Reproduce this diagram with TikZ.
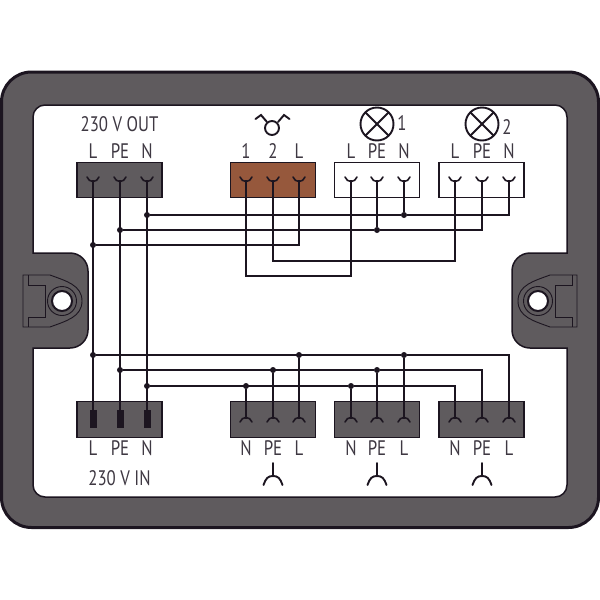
\documentclass[tikz,border=0pt]{standalone}
\usepackage{fontspec}
\setmainfont{PT Sans}
\definecolor{frame}{HTML}{5F5B5E}
\definecolor{ink}{HTML}{1C1520}
\definecolor{brownbox}{HTML}{96583C}
\tikzset{
  termbox/.style={draw=ink,line width=1.3pt,fill=frame,minimum width=85pt,minimum height=35.5pt,inner sep=0pt},
  lampbox/.style={termbox,fill=white},
  swbox/.style={termbox,fill=brownbox},
  wire/.style={draw=ink,line width=1.7pt},
  dot/.style={circle,fill=ink,inner sep=0pt,minimum size=6pt},
  lbl/.style={text=ink!85,font=\fontsize{21}{21}\selectfont,inner sep=0pt,transform shape,xscale=.8},
  symb/.style={draw=ink,line width=1.9pt,line cap=round},
  cup/.style={draw=ink,line width=1.6pt,line cap=round},
  lug/.pic={
    \draw [draw=ink,line width=.9pt] (-39,-26) -- (-12,-26) .. controls (4,-20) and (20,-16) .. (20,0)
      .. controls (20,16) and (4,20) .. (-12,26) -- (-39,26) -- cycle;
    \draw [draw=ink,line width=.9pt] (-34,-26) -- (-34,-16) -- (-17,-16) -- (-17,16) -- (-34,16) -- (-34,26);
    \draw [draw=ink,line width=.9pt] (0,0) circle (14.5);
    \draw [draw=ink,line width=2pt,fill=white] (0,0) circle (10);
  }
}
\begin{document}
\begin{tikzpicture}[x=1pt,y=-1pt]
  \useasboundingbox (0,0) rectangle (600,600);

  % housing
  \draw [draw=ink,line width=3pt,fill=frame,rounded corners=30pt] (1.5,72) rectangle (598.5,527.5);
  \draw [draw=ink,line width=1.5pt,fill=white]
    [rounded corners=12pt] (33,180) -- (33,105) -- (567,105) -- (567,180)
    [sharp corners] -- (567,253)
    [rounded corners=18pt] -- (512,253) -- (512,348)
    [sharp corners] -- (567,348)
    [rounded corners=12pt] -- (567,497) -- (33,497) -- (33,420)
    [sharp corners] -- (33,348)
    [rounded corners=18pt] -- (88,348) -- (88,253)
    [sharp corners] -- (33,253) -- cycle;
  \pic at (62,301) {lug};
  \pic [xscale=-1] at (538,301) {lug};

  % terminal blocks
  \node (out)   [termbox] at (119.5,180) {};
  \node (sw)    [swbox]   at (273,180)   {};
  \node (lampA) [lampbox] at (377,180)   {};
  \node (lampB) [lampbox] at (481.5,180) {};
  \node (in)    [termbox] at (119.5,419.5) {};
  \node (sockA) [termbox] at (273,419.5) {};
  \node (sockB) [termbox] at (377,419.5) {};
  \node (sockC) [termbox] at (481.5,419.5) {};

  % pins
  \foreach \name/\xa/\xb/\xc in {out/93/120/147,sw/246/273/299,lampA/351/377/404,lampB/455/482/509} {
    \coordinate (\name1) at (\xa,180);
    \coordinate (\name2) at (\xb,180);
    \coordinate (\name3) at (\xc,180);
    \foreach \x in {\xa,\xb,\xc}
      \draw [cup] (\x-6,177) .. controls (\x-4,183) and (\x+4,183) .. (\x+6,177);
  }
  \foreach \name/\xa/\xb/\xc in {in/93/120/147,sockA/246/273/299,sockB/351/377/404,sockC/455/482/509} {
    \coordinate (\name1) at (\xa,419);
    \coordinate (\name2) at (\xb,419);
    \coordinate (\name3) at (\xc,419);
  }
  \foreach \name/\xa/\xb/\xc in {sockA/246/273/299,sockB/351/377/404,sockC/455/482/509}
    \foreach \x in {\xa,\xb,\xc}
      \draw [cup] (\x-6,422) .. controls (\x-4,416) and (\x+4,416) .. (\x+6,422);

  % junctions
  \node (jN)  [dot] at (147,215) {};
  \node (jPE) [dot] at (120,230) {};
  \node (jL)  [dot] at (93,245)  {};
  \node (jAN)  [dot] at (404,215) {};
  \node (jAPE) [dot] at (377,230) {};
  \node (kL)  [dot] at (93,355)  {};
  \node (kPE) [dot] at (120,370) {};
  \node (kN)  [dot] at (147,386) {};
  \node (kAN)  [dot] at (246,386) {};
  \node (kAPE) [dot] at (273,370) {};
  \node (kAL)  [dot] at (299,355) {};
  \node (kBN)  [dot] at (351,386) {};
  \node (kBPE) [dot] at (377,370) {};
  \node (kBL)  [dot] at (404,355) {};

  % upper wiring
  \draw [wire] (out1) -- (in1);
  \draw [wire] (out2) -- (in2);
  \draw [wire] (out3) -- (in3);
  \draw [wire] (jN) -- (jAN) -| (lampB3);
  \draw [wire] (jPE) -- (jAPE) -| (lampB2);
  \draw [wire] (jL) -| (sw3);
  \draw [wire] (sw2) |- (455,261) -- (lampB1);
  \draw [wire] (sw1) |- (351,276) -- (lampA1);
  \draw [wire] (lampA2) -- (jAPE);
  \draw [wire] (lampA3) -- (jAN);

  % lower wiring
  \draw [wire] (kL) -- (kBL) -| (sockC3);
  \draw [wire] (kPE) -- (kBPE) -| (sockC2);
  \draw [wire] (kN) -- (kBN) -| (sockC1);
  \draw [wire] (kAN) -- (sockA1);
  \draw [wire] (kAPE) -- (sockA2);
  \draw [wire] (kAL) -- (sockA3);
  \draw [wire] (kBN) -- (sockB1);
  \draw [wire] (kBPE) -- (sockB2);
  \draw [wire] (kBL) -- (sockB3);

  % input contacts
  \foreach \x in {93,120,147}
    \fill [ink] (\x-3.5,410) rectangle (\x+3.5,428);

  % labels
  \node (tOut) [lbl] at (119.5,124) {230 V OUT};
  \node (tIn)  [lbl] at (119.5,478) {230 V IN};
  \foreach \name/\x/\txt in {a/93/L,b/120/PE,c/147/N,d/246/1,e/273/2,f/299/L,g/351/L,h/377/PE,i/404/N,j/455/L,k/482/PE,l/509/N}
    \node (top\name) [lbl] at (\x,151.5) {\txt};
  \foreach \name/\x/\txt in {a/93/L,b/120/PE,c/147/N,d/246/N,e/273/PE,f/299/L,g/351/N,h/377/PE,i/404/L,j/455/N,k/482/PE,l/509/L}
    \node (bot\name) [lbl] at (\x,448.5) {\txt};
  \node (tLampA) [lbl] at (402,123) {1};
  \node (tLampB) [lbl] at (507,127) {2};

  % lamps
  \foreach \x in {377,482} {
    \draw [symb] (\x,124) circle (16.5);
    \draw [symb] (\x-11.5,112.5) -- (\x+11.5,135.5);
    \draw [symb] (\x+11.5,112.5) -- (\x-11.5,135.5);
  }

  % switch symbol
  \draw [symb] (272,128) circle (7);
  \draw [symb] (255.5,119) -- (261,115) -- (267,122);
  \draw [symb] (289.5,119) -- (284,115) -- (278,122);

  % earth symbols
  \foreach \x in {273,377,482} {
    \draw [symb] (\x,463) -- (\x,476);
    \draw [symb] (\x-9.5,485) .. controls (\x-7,478) and (\x-5,476) .. (\x,476)
      .. controls (\x+5,476) and (\x+7,478) .. (\x+9.5,485);
  }
\end{tikzpicture}
\end{document}
